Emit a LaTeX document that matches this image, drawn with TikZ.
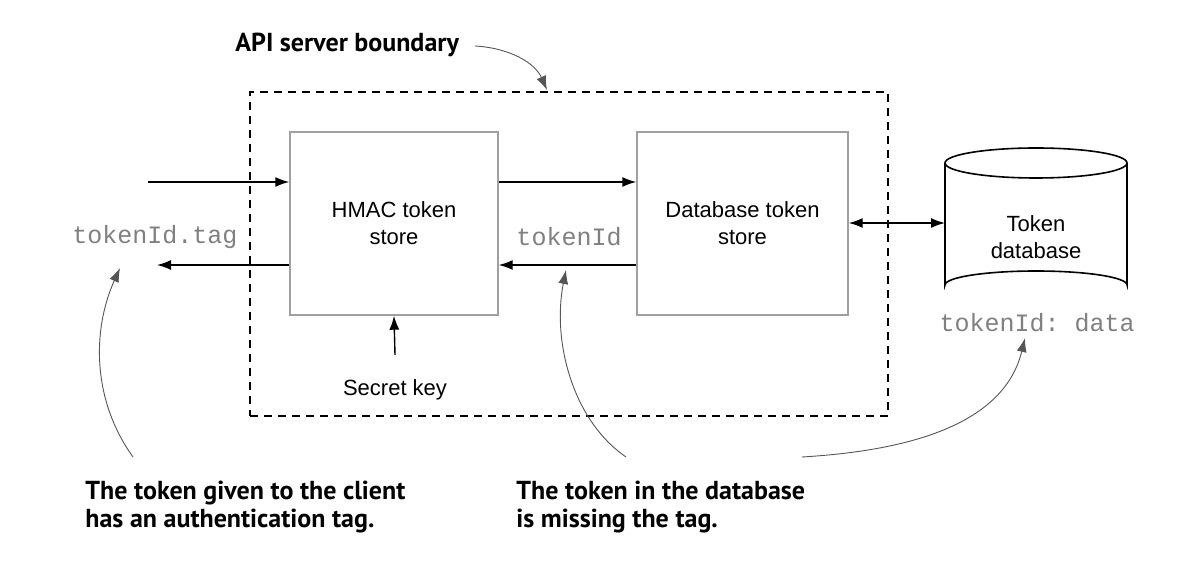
\documentclass[tikz,border=0pt]{standalone}
\usepackage{fontspec}
\setmainfont{Liberation Sans}
\setmonofont{Liberation Mono}
\newfontfamily\notefont{PT Sans}
\usetikzlibrary{arrows.meta,calc}
\definecolor{boxgray}{HTML}{A0A0A0}
\definecolor{codegray}{HTML}{808080}
\definecolor{notegray}{HTML}{555555}
\begin{document}
\begin{tikzpicture}[x=0.5pt,y=-0.5pt,
  store/.style={draw=boxgray,line width=0.7pt,minimum width=#1,minimum height=91.5pt,align=center,font=\fontsize{11}{13.5}\selectfont,inner sep=0pt},
  arr/.style={-{Latex[length=7pt,width=5pt]},line width=0.7pt},
  darr/.style={{Latex[length=7pt,width=5pt]}-{Latex[length=7pt,width=5pt]},line width=0.7pt},
  note/.style={-{Latex[length=7pt,width=5pt]},line width=0.45pt,draw=notegray},
  code/.style={font=\fontsize{12.5}{14}\ttfamily,text=codegray,inner sep=0pt},
  notetext/.style={font=\notefont\bfseries\fontsize{13}{14}\selectfont,align=left,inner sep=0pt},
  bnd/.style={draw,dash pattern=on 4pt off 3pt,line width=0.7pt,minimum width=319pt,minimum height=162pt}
]
\useasboundingbox (0,0) rectangle (1187,581);
\node[bnd] (boundary) at (569,254) {};
\node[store=104pt] (hmac) at (394,223.5) {HMAC token\\store};
\node[store=105.5pt] (dbstore) at (742.5,223.5) {Database token\\store};
% cylinder
\node[minimum width=91pt,minimum height=70pt,inner sep=0pt,align=center,font=\fontsize{11}{13.5}\selectfont] (db) at (1036,237) {Token\\database};
\draw[line width=0.8pt] (945,163) -- (945,285) arc[start angle=180,end angle=360,x radius=91,y radius=14] -- (1127,163);
\draw[line width=0.8pt] (1036,163) ellipse[x radius=91,y radius=15];
\coordinate (dbw) at (945,223);
% code labels
\node[code] (ctag) at (155,237) {tokenId.tag};
\node[code] (cid) at (569,237) {tokenId};
\node[code] (cdata) at (1037,323) {tokenId: data};
% arrows
\coordinate (inL) at (148,182);
\coordinate (outL) at (157,265);
\draw[arr] (inL) -- (hmac.west |- inL);
\draw[arr] (hmac.west |- outL) -- (outL);
\draw[arr] (hmac.east |- inL) -- (dbstore.west |- inL);
\draw[arr] (dbstore.west |- outL) -- (hmac.east |- outL);
\draw[darr] (dbstore.east |- dbw) -- (dbw);
\node[font=\fontsize{11}{13.5}\selectfont,inner sep=0pt] (secret) at (395,390) {Secret key};
\coordinate (skfrom) at (395,355);
\draw[arr] (skfrom) -- (hmac.south);
% titles and notes
\node[notetext,anchor=west] (title) at (235,45) {API server boundary};
\node[notetext,anchor=north west] (n1) at (85,481) {The token given to the client\\has an authentication tag.};
\node[notetext,anchor=north west] (n2) at (516,481) {The token in the database\\is missing the tag.};
\coordinate (t0) at (475,46);
\coordinate (t1) at (547,90);
\draw[note] (t0) .. controls (510,48) and (535,63) .. (t1);
\coordinate (a0) at (133,457);
\coordinate (a1) at (120,268);
\draw[note] (a0) .. controls (92,400) and (92,330) .. (a1);
\coordinate (b0) at (626,457);
\coordinate (b1) at (566,270);
\draw[note] (b0) .. controls (572,420) and (552,340) .. (b1);
\coordinate (c0) at (802,457);
\coordinate (c1) at (1025,338);
\draw[note] (c0) .. controls (920,450) and (1005,420) .. (c1);
\end{tikzpicture}
\end{document}
